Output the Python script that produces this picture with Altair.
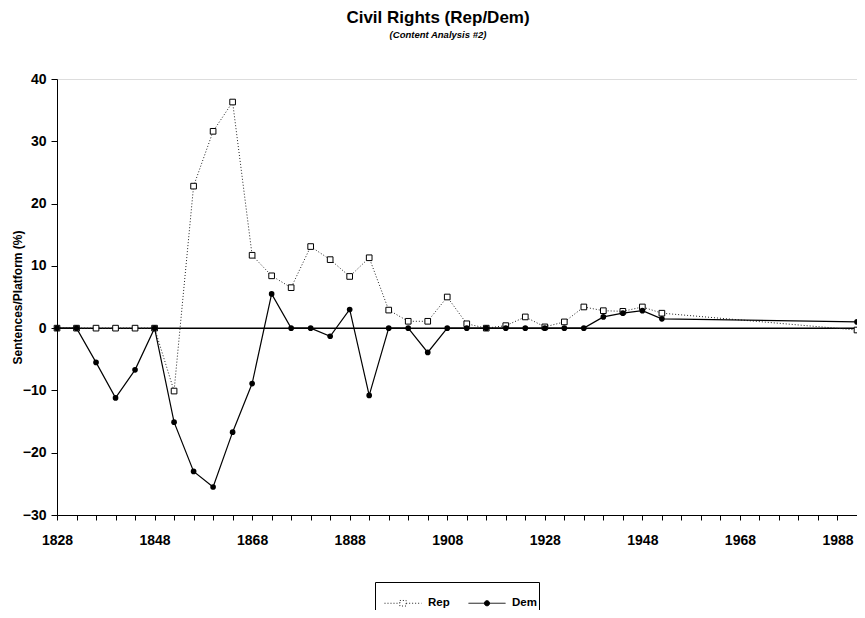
import altair as alt
import pandas as pd

years = [1828, 1832, 1836, 1840, 1844, 1848, 1852, 1856, 1860, 1864, 1868, 1872,
         1876, 1880, 1884, 1888, 1892, 1896, 1900, 1904, 1908, 1912, 1916, 1920,
         1924, 1928, 1932, 1936, 1940, 1944, 1948, 1952, 1992]
rep = [0, 0, 0, 0, 0, 0, -10.1, 22.8, 31.6, 36.3, 11.7, 8.4,
       6.5, 13.1, 11.0, 8.3, 11.3, 2.9, 1.1, 1.1, 5.0, 0.7, 0.0, 0.4,
       1.8, 0.2, 1.0, 3.4, 2.8, 2.7, 3.4, 2.4, -0.3]
dem = [0, 0, -5.5, -11.2, -6.7, 0, -15.1, -23.0, -25.5, -16.7, -8.9, 5.5,
       0, 0, -1.3, 3.0, -10.8, 0, 0, -3.9, 0, 0, 0, 0,
       0, 0, 0, 0, 1.8, 2.4, 2.8, 1.5, 1.0]
parties = ["Rep", "Dem"]
x_ticks = list(range(1828, 1993, 4))
y_ticks = [-30, -20, -10, 0, 10, 20, 30, 40]
zero_line = [0]

FONT = "Liberation Sans"

df = pd.DataFrame({
    "year": years * 2,
    "value": rep + dem,
    "party": ["Rep"] * len(years) + ["Dem"] * len(years),
})
zero_df = pd.DataFrame({"value": zero_line})

x_enc = alt.X(
    "year:Q",
    scale=alt.Scale(domain=[1828, 1992], nice=False, zero=False),
    axis=alt.Axis(
        values=x_ticks,
        labelExpr="(datum.value - 1828) % 20 == 0 ? datum.value : ''",
        title=None, grid=False, tickSize=5, labelPadding=13,
        labelFont=FONT, labelFontSize=14, labelFontWeight="bold",
        labelColor="black", labelOverlap=False, labelFlush=False,
        domainColor="black", tickColor="black",
    ),
)
y_enc = alt.Y(
    "value:Q",
    scale=alt.Scale(domain=[-30, 40], nice=False, zero=False),
    axis=alt.Axis(
        values=y_ticks, title="Sentences/Platform (%)", grid=False,
        tickSize=6, labelPadding=5,
        labelFont=FONT, labelFontSize=14, labelFontWeight="bold",
        labelColor="black",
        titleFont=FONT, titleFontSize=12, titleFontWeight="bold",
        titleColor="black", titleX=-40, titleBaseline="middle",
        domainColor="black", tickColor="black",
    ),
)

base = alt.Chart(df).encode(x=x_enc, y=y_enc)

rule = alt.Chart(zero_df).mark_rule(color="black", strokeWidth=1.5).encode(
    y=alt.Y("value:Q")
)

rep_line = base.transform_filter(alt.datum.party == "Rep").mark_line(
    color="#222222", strokeWidth=1, strokeDash=[1, 2]
)
dem_line = base.transform_filter(alt.datum.party == "Dem").mark_line(
    color="black", strokeWidth=1.2
)
rep_pts = base.transform_filter(alt.datum.party == "Rep").mark_point(
    shape="square", filled=True, fill="white", stroke="black",
    strokeWidth=1, size=32, opacity=1
)
dem_pts = base.transform_filter(alt.datum.party == "Dem").mark_point(
    shape="circle", filled=True, color="black", size=32, opacity=1
)

rep_path = "M-1,0H-0.17M0.17,0H1M-0.17,-0.15H0.17V0.15H-0.17Z"
dem_path = "M-1,0H1M0.14,0A0.14,0.14 0 1,1 -0.14,0A0.14,0.14 0 1,1 0.14,0Z"

leg = alt.Legend(
    orient="none", legendX=318, legendY=503, direction="horizontal",
    title=None, symbolSize=1369, symbolStrokeWidth=1,
    symbolOpacity=1,
    labelFont=FONT, labelFontSize=11.5, labelFontWeight="bold",
    labelColor="black", labelOffset=6, columnPadding=11, padding=2,
    symbolOffset=7, strokeColor="black",
)

legend_layer = base.transform_filter("false").mark_point(
    filled=True, strokeWidth=1, opacity=1
).encode(
    shape=alt.Shape("party:N", scale=alt.Scale(domain=parties, range=[rep_path, dem_path]), legend=leg),
    fill=alt.Fill("party:N", scale=alt.Scale(domain=parties, range=["white", "black"]), legend=leg),
    stroke=alt.Stroke("party:N", scale=alt.Scale(domain=parties, range=["#222222", "black"]), legend=leg),
    strokeDash=alt.StrokeDash("party:N", scale=alt.Scale(domain=parties, range=[[1, 2], [1, 0]]), legend=leg),
)

chart = alt.layer(rule, rep_line, dem_line, rep_pts, dem_pts, legend_layer).properties(
    width=800,
    height=436,
    autosize=alt.AutoSizeParams(type="none"),
    padding={"left": 49, "top": 71, "right": 0, "bottom": 95},
    title=alt.Title(
        "Civil Rights (Rep/Dem)",
        subtitle="(Content Analysis #2)",
        font=FONT, fontSize=17, fontWeight="bold", color="black",
        subtitleFont=FONT, subtitleFontSize=9.5, subtitleFontStyle="italic",
        subtitleFontWeight="bold", subtitleColor="black", subtitlePadding=3,
        anchor="middle", dx=-19, offset=32,
    ),
).configure_view(stroke="black", strokeWidth=1).configure(background="white")

chart.save("out.html", embed_options={"renderer": "svg", "actions": False})
